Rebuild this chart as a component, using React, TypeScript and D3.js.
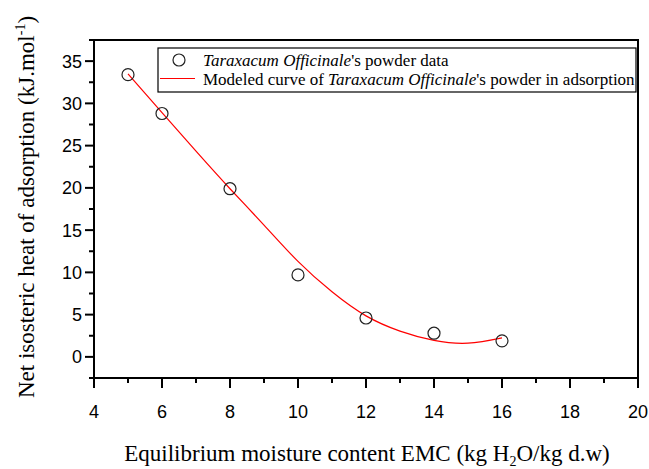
import React from "react";
import * as d3 from "d3";

const dataX = [5, 6, 8, 10, 12, 14, 16];
const dataY = [33.4, 28.8, 19.9, 9.7, 4.6, 2.8, 1.9];
const curveX = [5, 6, 7, 8, 9, 10, 11, 12, 13, 14, 15, 16];
const curveY = [33.5, 28.9, 24.35, 19.9, 15.6, 11.3, 7.7, 4.85, 3.05, 1.95, 1.62, 2.25];
const xTicks = [4, 6, 8, 10, 12, 14, 16, 18, 20];
const xMinor = [5, 7, 9, 11, 13, 15, 17, 19];
const yTicks = [0, 5, 10, 15, 20, 25, 30, 35];
const yMinor = [-2.5, 2.5, 7.5, 12.5, 17.5, 22.5, 27.5, 32.5, 37.5];

const W = 649, H = 469;
const L = 94, R = 638, T = 40, B = 378;

export default function App() {
  const x = d3.scaleLinear().domain([4, 20]).range([L, R]);
  const y = d3.scaleLinear().domain([-2.5, 37.5]).range([B, T]);
  const line = d3
    .line<number>()
    .x((_, i) => x(curveX[i]))
    .y((d) => y(d))
    .curve(d3.curveNatural);
  const sans = "'Liberation Sans', Arial, sans-serif";
  const serif = "'Liberation Serif', 'Times New Roman', serif";
  return (
    <svg width={W} height={H} style={{ position: "absolute", left: 0, top: 0, background: "#fff" }}>
      <rect width={W} height={H} fill="#fff" />
      {/* curve */}
      <path d={line(curveY) || ""} fill="none" stroke="#ff0000" strokeWidth={1.2} />
      {/* points */}
      {dataX.map((d, i) => (
        <circle key={i} cx={x(d)} cy={y(dataY[i])} r={6} fill="none" stroke="#222" strokeWidth={1.2} />
      ))}
      {/* frame */}
      <rect x={L} y={T} width={R - L} height={B - T} fill="none" stroke="#000" strokeWidth={2} />
      {/* x ticks */}
      {xTicks.map((t) => (
        <g key={"xt" + t}>
          <line x1={x(t)} x2={x(t)} y1={B} y2={B + 10} stroke="#000" strokeWidth={2} />
          <text x={x(t)} y={418} textAnchor="middle" fontFamily={sans} fontSize={18} fill="#000">{t}</text>
        </g>
      ))}
      {xMinor.map((t) => (
        <line key={"xm" + t} x1={x(t)} x2={x(t)} y1={B} y2={B + 5} stroke="#000" strokeWidth={2} />
      ))}
      {/* y ticks */}
      {yTicks.map((t) => (
        <g key={"yt" + t}>
          <line x1={L - 9} x2={L} y1={y(t)} y2={y(t)} stroke="#000" strokeWidth={2} />
          <text x={82} y={y(t) + 6.5} textAnchor="end" fontFamily={sans} fontSize={18} fill="#000">{t}</text>
        </g>
      ))}
      {yMinor.map((t) => (
        <line key={"ym" + t} x1={L - 5} x2={L} y1={y(t)} y2={y(t)} stroke="#000" strokeWidth={2} />
      ))}
      {/* axis titles */}
      <text x={367} y={461} textAnchor="middle" fontFamily={serif} fontSize={23} fill="#000">
        Equilibrium moisture content EMC (kg H<tspan fontSize={14} dy={5}>2</tspan>
        <tspan dy={-5}>O/kg d.w)</tspan>
      </text>
      <text transform="translate(34,207) rotate(-90)" textAnchor="middle" fontFamily={serif} fontSize={23} fill="#000">
        Net isosteric heat of adsorption (kJ.mol<tspan fontSize={14} dy={-9}>-1</tspan>
        <tspan dy={9}>)</tspan>
      </text>
      {/* legend */}
      <rect x={158} y={48} width={478} height={44} fill="#fff" stroke="#000" strokeWidth={1.2} />
      <circle cx={179} cy={60} r={6} fill="none" stroke="#222" strokeWidth={1.2} />
      <line x1={160} x2={195} y1={78.5} y2={78.5} stroke="#ff0000" strokeWidth={1.2} />
      <text x={203} y={65.5} fontFamily={serif} fontSize={17} fill="#000">
        <tspan fontStyle="italic">Taraxacum Officinale</tspan>'s powder data
      </text>
      <text x={203} y={85} fontFamily={serif} fontSize={17} fill="#000">
        Modeled curve of <tspan fontStyle="italic">Taraxacum Officinale</tspan>'s powder in adsorption
      </text>
    </svg>
  );
}
